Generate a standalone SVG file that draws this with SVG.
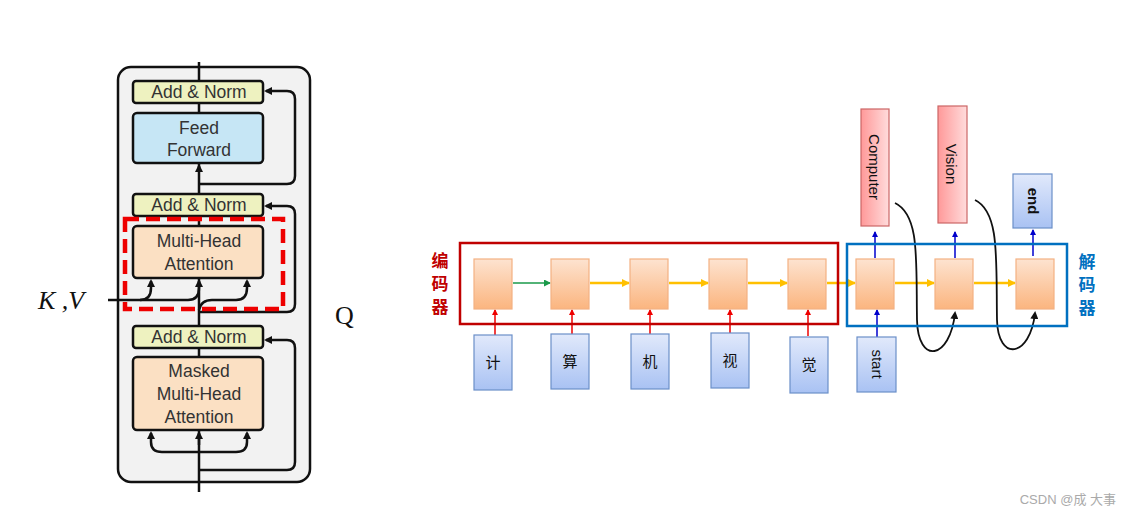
<svg xmlns="http://www.w3.org/2000/svg" width="1132" height="517" viewBox="0 0 1132 517">
<defs>
<style>
.t{font-family:"Liberation Sans",Arial,sans-serif;fill:#333;font-size:17.5px;text-anchor:middle}
.ln{stroke:#111;stroke-width:2.5;fill:none}
.an{fill:#eef2c0;stroke:#111;stroke-width:2.5}
.cell{fill:url(#og);stroke:#f4b183;stroke-width:1.2}
.inp{fill:url(#bg);stroke:#6b8fc9;stroke-width:1.2}
.out{fill:url(#rg);stroke:#c66;stroke-width:1.2}
.cj{font-family:"Liberation Sans","Noto Sans CJK SC",sans-serif;font-size:15px;text-anchor:middle;fill:#111}
.lb{font-family:"Noto Sans CJK SC",sans-serif;font-size:17px;font-weight:bold;text-anchor:middle}
</style>
<linearGradient id="og" x1="0" y1="0" x2="0" y2="1"><stop offset="0" stop-color="#fde3d0"/><stop offset="1" stop-color="#fbb57f"/></linearGradient>
<linearGradient id="bg" x1="0" y1="0" x2="0" y2="1"><stop offset="0" stop-color="#e1e9fb"/><stop offset="1" stop-color="#a9c2f3"/></linearGradient>
<linearGradient id="rg" x1="0" y1="0" x2="1" y2="0"><stop offset="0" stop-color="#ff9999"/><stop offset="1" stop-color="#ffdcdc"/></linearGradient>
<marker id="ak" markerWidth="8" markerHeight="8" refX="6" refY="4" orient="auto" markerUnits="userSpaceOnUse"><path d="M0,0 L8,4 L0,8 z" fill="#111"/></marker>
<marker id="ay" markerWidth="8" markerHeight="8" refX="7" refY="4" orient="auto" markerUnits="userSpaceOnUse"><path d="M0,0 L8,4 L0,8 z" fill="#ffc000"/></marker>
<marker id="ag" markerWidth="7" markerHeight="7" refX="6" refY="3.5" orient="auto" markerUnits="userSpaceOnUse"><path d="M0,0 L7,3.5 L0,7 z" fill="#1a9a4a"/></marker>
<marker id="ar" markerWidth="6" markerHeight="6" refX="5" refY="3" orient="auto" markerUnits="userSpaceOnUse"><path d="M0,0 L6,3 L0,6 z" fill="#e00"/></marker>
<marker id="ab" markerWidth="6" markerHeight="6" refX="5" refY="3" orient="auto" markerUnits="userSpaceOnUse"><path d="M0,0 L6,3 L0,6 z" fill="#00c"/></marker>
</defs>
<rect width="1132" height="517" fill="#fff"/>
<g id="decoder-layer">
<rect x="118" y="67" width="192" height="415" rx="13" fill="#f2f2f2" stroke="#111" stroke-width="2.5"/>
</g>
<g id="connectors">
<path class="ln" d="M199,62 V492"/>
<path class="ln" d="M199,184 H287 Q295,184 295,176 V99 Q295,91 287,91 H266" marker-end="url(#ak)"/>
<path class="ln" d="M199,312 H287 Q295,312 295,304 V214 Q295,206 287,206 H266" marker-end="url(#ak)"/>
<path class="ln" d="M199,470 H287 Q295,470 295,462 V348 Q295,340 287,340 H266" marker-end="url(#ak)"/>
<path class="ln" d="M199,170 V166" marker-end="url(#ak)"/>
<path class="ln" d="M108,300 H140 Q151,300 151,288 V281" marker-end="url(#ak)"/>
<path class="ln" d="M140,300 H188 Q199,300 199,288 V281" marker-end="url(#ak)"/>
<path class="ln" d="M199,310 Q201,300 212,300 H236 Q247,300 247,288 V281" marker-end="url(#ak)"/>
<path class="ln" d="M199,452 H162 Q151,452 151,442 V433" marker-end="url(#ak)"/>
<path class="ln" d="M199,452 H236 Q247,452 247,442 V433" marker-end="url(#ak)"/>
<path class="ln" d="M199,445 V433" marker-end="url(#ak)"/>
<line x1="513" y1="283" x2="550" y2="283" stroke="#1a9a4a" stroke-width="1.5" marker-end="url(#ag)"/>
<g stroke="#ffc000" stroke-width="2.5" marker-end="url(#ay)">
<line x1="590" y1="283" x2="629" y2="283"/>
<line x1="669" y1="283" x2="708" y2="283"/>
<line x1="748" y1="283" x2="787" y2="283"/>
<line x1="827" y1="283" x2="855" y2="283"/>
<line x1="895" y1="283" x2="934" y2="283"/>
<line x1="974" y1="283" x2="1015" y2="283"/>
</g>
<g stroke="#e00" stroke-width="1.5" marker-end="url(#ar)">
<line x1="495" y1="335" x2="495" y2="310"/>
<line x1="572" y1="334" x2="572" y2="310"/>
<line x1="650" y1="334" x2="650" y2="310"/>
<line x1="730" y1="333" x2="730" y2="310"/>
<line x1="808" y1="336" x2="808" y2="310"/>
</g>
<g stroke="#00c" stroke-width="1.5" marker-end="url(#ab)">
<line x1="877" y1="337" x2="877" y2="310"/>
<line x1="875" y1="258" x2="875" y2="232"/>
<line x1="955" y1="258" x2="955" y2="232"/>
<line x1="1033" y1="256" x2="1033" y2="230"/>
</g>
<path d="M895,203 C920,215 916,260 917,320 C918,365 950,360 955,313" fill="none" stroke="#111" stroke-width="1.8" marker-end="url(#ak)"/>
<path d="M975,200 C1000,212 996,260 997,320 C998,362 1030,358 1035,313" fill="none" stroke="#111" stroke-width="1.8" marker-end="url(#ak)"/>
</g>
<g id="addnorm1"><rect class="an" x="133" y="81" width="130" height="22" rx="3"/><text class="t" x="199" y="98">Add &amp; Norm</text></g>
<g id="ff"><rect x="133" y="113" width="130" height="50" rx="4" fill="#c6e6f5" stroke="#111" stroke-width="2.5"/><text class="t" x="199" y="134">Feed</text><text class="t" x="199" y="156">Forward</text></g>
<g id="addnorm2"><rect class="an" x="133" y="194" width="130" height="22" rx="3"/><text class="t" x="199" y="211">Add &amp; Norm</text></g>
<g id="mha"><rect x="133" y="226" width="130" height="52" rx="4" fill="#fbe0c3" stroke="#111" stroke-width="2.5"/><text class="t" x="199" y="247">Multi-Head</text><text class="t" x="199" y="270">Attention</text></g>
<g id="redbox"><rect x="125" y="219" width="158" height="90" fill="none" stroke="#e00" stroke-width="4.5" stroke-dasharray="14,7"/></g>
<g id="addnorm3"><rect class="an" x="133" y="326" width="130" height="22" rx="3"/><text class="t" x="199" y="343">Add &amp; Norm</text></g>
<g id="masked"><rect x="133" y="357" width="130" height="73" rx="4" fill="#fbe0c3" stroke="#111" stroke-width="2.5"/><text class="t" x="199" y="377">Masked</text><text class="t" x="199" y="400">Multi-Head</text><text class="t" x="199" y="423">Attention</text></g>
<g id="kv"><text x="38" y="309" font-family="Liberation Serif,serif" font-style="italic" font-size="26" fill="#111">K ,V</text></g>
<g id="q"><text x="335" y="324" font-family="Liberation Serif,serif" font-size="26" fill="#111">Q</text></g>

<g id="encoder"><rect x="460" y="243" width="378" height="81" fill="none" stroke="#c00000" stroke-width="2.5"/>
<text class="lb" fill="#c00000" x="440" y="267">编</text><text class="lb" fill="#c00000" x="440" y="290">码</text><text class="lb" fill="#c00000" x="440" y="313">器</text></g>
<g id="decoder"><rect x="847" y="244" width="220" height="82" fill="none" stroke="#0070c0" stroke-width="2.5"/>
<text class="lb" fill="#0070c0" x="1087" y="268">解</text><text class="lb" fill="#0070c0" x="1087" y="291">码</text><text class="lb" fill="#0070c0" x="1087" y="314">器</text></g>
<g id="e1"><rect class="cell" x="474" y="259" width="38" height="50"/></g>
<g id="e2"><rect class="cell" x="551" y="259" width="38" height="50"/></g>
<g id="e3"><rect class="cell" x="630" y="259" width="38" height="50"/></g>
<g id="e4"><rect class="cell" x="709" y="259" width="38" height="50"/></g>
<g id="e5"><rect class="cell" x="788" y="259" width="38" height="50"/></g>
<g id="d1"><rect class="cell" x="856" y="259" width="38" height="50"/></g>
<g id="d2"><rect class="cell" x="935" y="259" width="38" height="50"/></g>
<g id="d3"><rect class="cell" x="1016" y="259" width="38" height="50"/></g>
<g id="i1"><rect class="inp" x="474" y="335" width="38" height="55"/><text class="cj" x="493" y="368">计</text></g>
<g id="i2"><rect class="inp" x="551" y="334" width="38" height="55"/><text class="cj" x="570" y="367">算</text></g>
<g id="i3"><rect class="inp" x="631" y="334" width="38" height="55"/><text class="cj" x="650" y="367">机</text></g>
<g id="i4"><rect class="inp" x="711" y="333" width="38" height="55"/><text class="cj" x="730" y="366">视</text></g>
<g id="i5"><rect class="inp" x="790" y="337" width="38" height="56"/><text class="cj" x="809" y="370">觉</text></g>
<g id="start"><rect class="inp" x="857" y="337" width="39" height="55"/><text class="cj" transform="translate(872,364) rotate(90)">start</text></g>
<g id="computer"><rect class="out" x="861" y="109" width="28" height="117"/><text class="cj" transform="translate(869,167) rotate(90)">Computer</text></g>
<g id="vision"><rect class="out" x="938" y="106" width="29" height="117"/><text class="cj" transform="translate(946,164) rotate(90)">Vision</text></g>
<g id="end"><rect class="inp" x="1013" y="174" width="39" height="54"/><text class="cj" font-weight="bold" transform="translate(1028,201) rotate(90)">end</text></g>
<text x="1116" y="504" font-family="Liberation Sans,'Noto Sans CJK SC',sans-serif" font-size="13" fill="#aaa" text-anchor="end">CSDN @成 大事</text>
</svg>
